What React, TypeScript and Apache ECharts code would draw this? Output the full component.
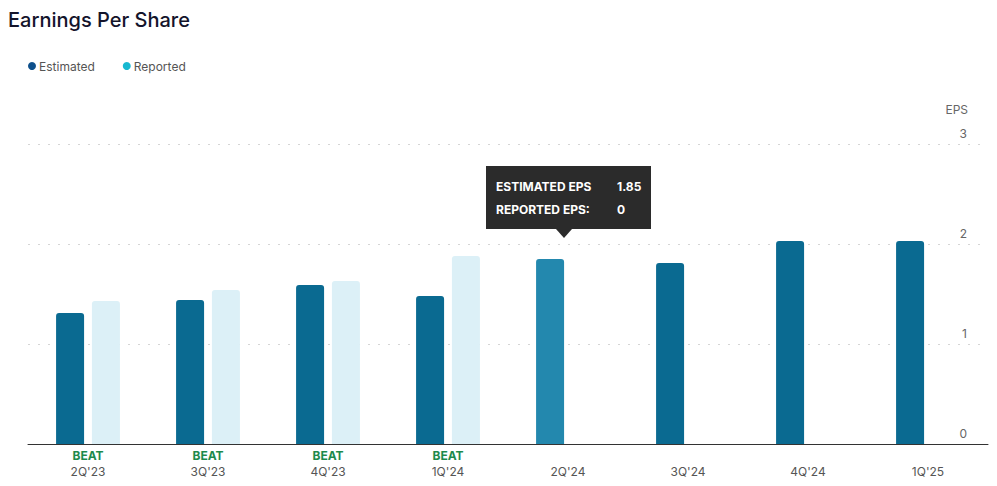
import React, { useEffect, useRef } from "react";
import * as echarts from "echarts";

const quarters = ["2Q'23", "3Q'23", "4Q'23", "1Q'24", "2Q'24", "3Q'24", "4Q'24", "1Q'25"];
const estimated = [1.31, 1.44, 1.59, 1.48, 1.85, 1.81, 2.03, 2.03];
const reported = [1.43, 1.54, 1.63, 1.88, 0, 0, 0, 0];
const results = ["BEAT", "BEAT", "BEAT", "BEAT", "", "", "", ""];
const yTicks = [0, 1, 2, 3];
const hoverIndex = 4;

const FONT = "Inter, 'Noto Sans', sans-serif";

export default function App() {
  const ref = useRef<HTMLDivElement>(null);
  useEffect(() => {
    document.body.style.margin = "0";
    if (!ref.current) return;
    const chart = echarts.init(ref.current, null, { renderer: "svg" });
    const option: any = {
      animation: false,
      textStyle: { fontFamily: FONT },
      title: {
        text: "Earnings Per Share",
        left: 8,
        top: 10,
        padding: 0,
        textStyle: { fontSize: 20, fontWeight: 500, color: "#14142b", fontFamily: FONT },
      },
      legend: {
        left: 23,
        top: 55,
        icon: "circle",
        itemWidth: 8,
        itemHeight: 8,
        itemGap: 28,
        textStyle: { color: "#555", fontSize: 12, fontFamily: FONT, padding: [0, 0, 0, -2] },
        data: [
          { name: "Estimated", itemStyle: { color: "#0d4f8b" } },
          { name: "Reported", itemStyle: { color: "#17b8d0" } },
        ],
      },
      grid: { left: 28, right: 9, top: 144, bottom: 42, containLabel: false },
      xAxis: {
        type: "category",
        data: quarters,
        axisTick: { show: false },
        axisLine: { lineStyle: { color: "#333", width: 1 } },
        axisLabel: {
          margin: 4,
          interval: 0,
          formatter: (v: string, i: number) => `{b|${results[i] || " "}}\n{q|${v}}`,
          rich: {
            b: { color: "#1e8a4c", fontWeight: "bold", fontSize: 12, lineHeight: 15, fontFamily: FONT },
            q: { color: "#555", fontSize: 12, lineHeight: 17, fontFamily: FONT },
          },
        },
      },
      yAxis: {
        type: "value",
        position: "right",
        min: yTicks[0],
        max: yTicks[yTicks.length - 1],
        interval: 1,
        name: "EPS",
        nameLocation: "end",
        nameGap: 29,
        nameTextStyle: { color: "#666", fontSize: 12, align: "right", padding: [0, 20, 0, 0], fontFamily: FONT },
        axisLine: { show: false },
        axisTick: { show: false },
        axisLabel: {
          inside: true,
          margin: 21,
          align: "right",
          verticalAlign: "bottom",
          padding: [0, 0, 5, 0],
          color: "#666",
          fontSize: 12,
          fontFamily: FONT,
        },
        splitLine: { lineStyle: { color: "#d5d5d5", type: [2, 8], width: 1 } },
      },
      series: [
        {
          name: "Estimated",
          type: "bar",
          barWidth: 28,
          barGap: "28%",
          data: estimated.map((v, i) =>
            i === hoverIndex ? { value: v, itemStyle: { color: "#2388ae" } } : v
          ),
          itemStyle: { color: "#0a6a91", borderRadius: [3, 3, 0, 0] },
        },
        {
          name: "Reported",
          type: "bar",
          barWidth: 28,
          data: reported,
          itemStyle: { color: "#dcf0f7", borderRadius: [3, 3, 0, 0] },
        },
      ],
    };
    chart.setOption(option);

    const p = chart.convertToPixel({ xAxisIndex: 0, yAxisIndex: 0 }, [quarters[hoverIndex], estimated[hoverIndex]]) as number[];
    const cx = p[0] - 4;
    const tipY = p[1] - 21;
    const w = 165;
    const h = 63;
    const left = cx - 78;
    const top = tipY - 9 - h;
    chart.setOption({
      graphic: [
        {
          type: "group",
          children: [
            { type: "rect", shape: { x: left, y: top, width: w, height: h }, style: { fill: "#2b2b2b" } },
            {
              type: "polygon",
              shape: { points: [[cx - 8, top + h], [cx + 8, top + h], [cx, tipY]] },
              style: { fill: "#2b2b2b" },
            },
            {
              type: "text",
              x: left + 10,
              y: top + 20,
              style: { text: "ESTIMATED EPS", fill: "#fff", font: `bold 12px ${FONT}`, verticalAlign: "middle" },
            },
            {
              type: "text",
              x: left + 131,
              y: top + 20,
              style: { text: String(estimated[hoverIndex]), fill: "#fff", font: `bold 12px ${FONT}`, verticalAlign: "middle" },
            },
            {
              type: "text",
              x: left + 10,
              y: top + 43,
              style: { text: "REPORTED EPS:", fill: "#fff", font: `bold 12px ${FONT}`, verticalAlign: "middle" },
            },
            {
              type: "text",
              x: left + 131,
              y: top + 43,
              style: { text: String(reported[hoverIndex]), fill: "#fff", font: `bold 12px ${FONT}`, verticalAlign: "middle" },
            },
          ],
        },
      ],
    });
    return () => chart.dispose();
  }, []);
  return <div ref={ref} style={{ width: 997, height: 486 }} />;
}
